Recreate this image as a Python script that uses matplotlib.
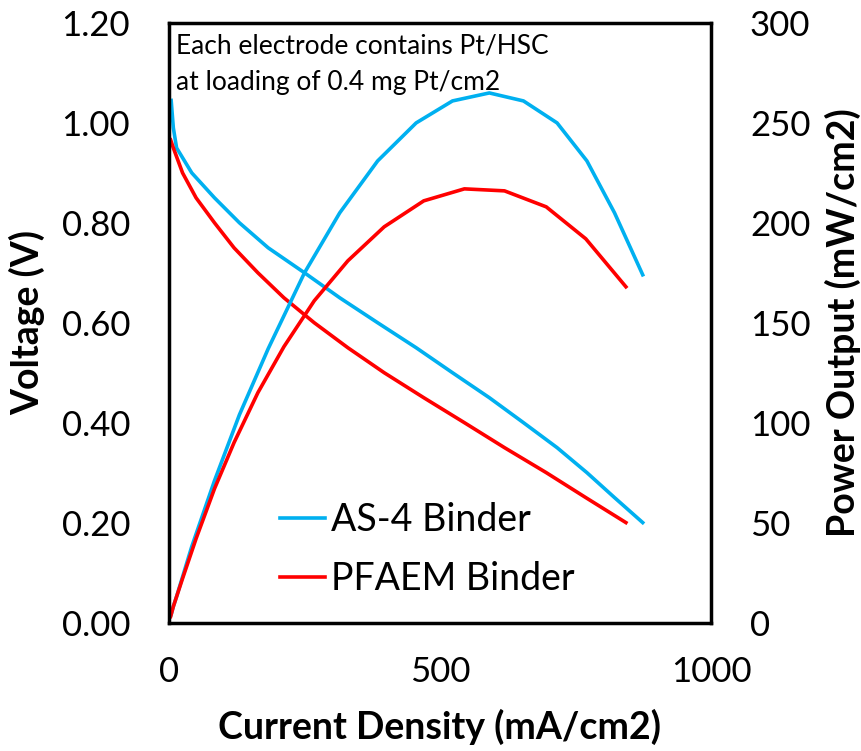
import matplotlib
matplotlib.use("Agg")
import matplotlib.pyplot as plt

plt.rcParams['font.family'] = ['Lato', 'DejaVu Sans']

# AS-4 binder: current density (mA/cm2), voltage (V), power (mW/cm2)
as4_i = [4, 8, 14, 42, 84, 130, 183, 250, 315, 385, 456, 523, 591, 654, 716, 771, 822, 874]
as4_v = [1.045, 0.99, 0.95, 0.90, 0.85, 0.80, 0.75, 0.70, 0.65, 0.60, 0.55, 0.50,
         0.45, 0.40, 0.35, 0.30, 0.25, 0.20]
as4_p = [4, 8, 13, 38, 71, 104, 137, 175, 205, 231, 250, 261, 265, 261, 250, 231, 205, 174]

# PFAEM binder
pf_i = [3, 8, 25, 50, 84, 120, 164, 212, 268, 330, 397, 470, 545, 619, 696, 769, 843]
pf_v = [0.966, 0.95, 0.90, 0.85, 0.80, 0.75, 0.70, 0.65, 0.60, 0.55, 0.50, 0.45,
        0.40, 0.35, 0.30, 0.25, 0.20]
pf_p = [3, 8, 22, 42, 67, 90, 115, 138, 161, 181, 198, 211, 217, 216, 208, 192, 168]

blue = '#00B0F0'
red = '#FF0000'

fig = plt.figure(figsize=(8.62, 7.51), dpi=100)
ax = fig.add_axes([169/862, 1 - 622.5/751, (711-169)/862, (622.5-23)/751])
ax2 = ax.twinx()

l1, = ax.plot(as4_i, as4_v, color=blue, lw=2.6, label='AS-4 Binder')
l2, = ax.plot(pf_i, pf_v, color=red, lw=2.6, label='PFAEM Binder')
ax2.plot(as4_i, as4_p, color=blue, lw=2.6)
ax2.plot(pf_i, pf_p, color=red, lw=2.6)

ax.set_xlim(0, 1000)
ax.set_ylim(0, 1.2)
ax2.set_ylim(0, 300)
ax.set_xticks([0, 500, 1000])
ax.set_yticks([0, 0.2, 0.4, 0.6, 0.8, 1.0, 1.2])
ax.set_yticklabels([f'{v:.2f}' for v in ax.get_yticks()])
ax2.set_yticks([0, 50, 100, 150, 200, 250, 300])

ax.tick_params(axis='y', length=0, pad=28, labelsize=25)
ax.tick_params(axis='x', length=0, pad=24, labelsize=25)
ax2.tick_params(axis='y', length=0, pad=28, labelsize=25)

for sp in ax2.spines.values():
    sp.set_linewidth(2.5)

ax.set_xlabel('Current Density (mA/cm2)', fontsize=27, fontweight='bold', labelpad=15)
ax.set_ylabel('Voltage (V)', fontsize=27, fontweight='bold', labelpad=12)
ax2.set_ylabel('Power Output (mW/cm2)', fontsize=27, fontweight='bold', labelpad=10)

ax.text(0.012, 0.982, 'Each electrode contains Pt/HSC\nat loading of 0.4 mg Pt/cm2',
        transform=ax.transAxes, ha='left', va='top', fontsize=19, linespacing=1.55)

ax.legend(handles=[l1, l2], loc='lower left', bbox_to_anchor=(0.205, 0.042),
          frameon=False, fontsize=27, handlelength=1.2, handletextpad=0.15,
          labelspacing=0.62, borderpad=0, borderaxespad=0)

fig.savefig('out.png', dpi=100)
